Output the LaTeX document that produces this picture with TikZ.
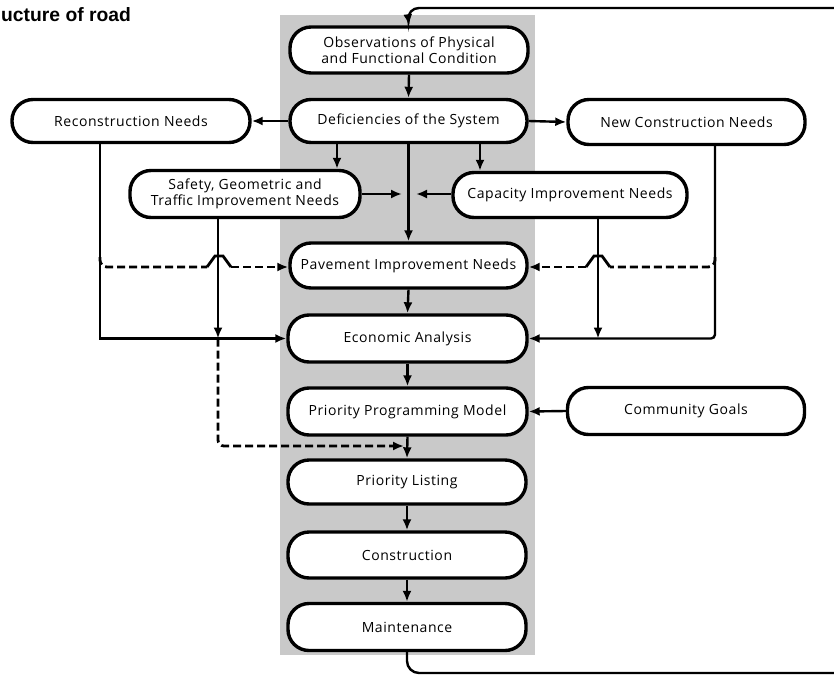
\documentclass[tikz,border=0pt]{standalone}
\usepackage{fontspec}
\newfontfamily\labf[LetterSpace=4]{Open Sans}
\newfontfamily\titf{Liberation Sans}
\usetikzlibrary{arrows.meta}
\tikzset{
  pill/.style={draw=black, line width=3.4pt, fill=white, rounded corners=21pt,
    minimum width=237pt, minimum height=45pt, inner sep=2pt, align=center,
    font=\labf\fontsize{14}{16}\selectfont},
  tip/.style={-{Latex[length=11pt,width=9pt]}},
  conn/.style={line width=2.4pt, draw=black},
  arr/.style={conn, tip},
  dsh/.style={line width=2.8pt, dash pattern=on 8pt off 4pt},
  band/.style={fill=black!21},
}
\begin{document}
\begin{tikzpicture}[x=1pt,y=-1pt]
\clip (0,0) rectangle (834,677);
\fill[white] (0,0) rectangle (834,677);
\fill[band] (280,15) rectangle (535,655);
\node[anchor=west, font=\titf\bfseries\fontsize{19.3}{22}\selectfont, inner sep=0pt] (title) at (1,15) {ucture of road};

\node[pill, minimum width=238pt, minimum height=46pt] (obs) at (409,50) {Observations of Physical\\and Functional Condition};
\node[pill, minimum height=43pt] (def) at (408.5,121) {Deficiencies of the System};
\node[pill, minimum width=238pt, minimum height=43pt] (rec) at (131,121) {Reconstruction Needs};
\node[pill] (newc) at (686.5,122) {New Construction Needs};
\node[pill, minimum width=230pt, minimum height=47pt] (saf) at (245,194) {Safety, Geometric and\\Traffic Improvement Needs};
\node[pill, minimum width=234pt] (cap) at (570,195) {Capacity Improvement Needs};
\node[pill] (pav) at (408.5,265.5) {Pavement Improvement Needs};
\node[pill, minimum width=239pt, minimum height=47pt] (eco) at (407.5,338.5) {Economic Analysis};
\node[pill, minimum width=239pt, minimum height=47pt] (ppm) at (407.5,411.5) {Priority Programming Model};
\node[pill, minimum height=47pt] (com) at (686,411) {Community Goals};
\node[pill, minimum width=238pt, minimum height=44pt] (pl) at (407,482) {Priority Listing};
\node[pill, minimum width=238pt, minimum height=46pt] (con) at (407,555) {Construction};
\node[pill, minimum width=238pt, minimum height=47pt] (mai) at (407,627) {Maintenance};

% main chain
\draw[arr] (obs.south) -- (def.north);
\draw[arr] (def.west) -- (rec.east);
\draw[arr] (def.east) -- (newc.west);
\draw[arr] (def.south -| 337,0) -- (saf.north -| 337,0);
\draw[arr] (def.south -| 480,0) -- (cap.north -| 480,0);
\draw[arr] (def.south) -- (pav.north);
\draw[arr] (pav.south) -- (eco.north);
\draw[arr] (eco.south) -- (ppm.north);
\draw[arr] (ppm.south) -- (pl.north);
\draw[arr] (pl.south) -- (con.north);
\draw[arr] (con.south) -- (mai.north);
\draw[arr] (com.west) -- (ppm.east);

% safety <-> capacity
\coordinate (sc) at (408,194);
\draw[arr] (saf.east) -- ([xshift=-6pt]sc);
\draw[arr] (cap.west |- sc) -- ([xshift=8pt]sc);

% reconstruction needs
\draw[arr] (rec.south -| 100,0) -- (100,338.5) -- (eco.west);
\draw[dsh, rounded corners=7pt] (100,257) -- (100,267) -- (207,267);
\draw[dsh, dash pattern=] (207,267) -- (215,256) -- (223,256) -- (231,267);
\draw[dsh, tip] (231,267) -- (pav.west |- 0,267);

% safety vertical
\draw[arr] (saf.south -| 218,0) -- (218,338.5);
\draw[dsh, rounded corners=6pt, tip] (218,338.5) -- (218,446) -- (404,446);

% new construction needs
\draw[arr, rounded corners=4pt] (newc.south -| 715,0) -- (715,338.5) -- (eco.east);
\draw[dsh, rounded corners=7pt] (715,257) -- (715,267) -- (610,267);
\draw[dsh, dash pattern=] (610,267) -- (602,256) -- (594,256) -- (586,267);
\draw[dsh, tip] (586,267) -- (pav.east |- 0,267);

% capacity vertical
\draw[arr] (cap.south -| 598,0) -- (598,338.5);

% feedback loop
\draw[arr, rounded corners=12pt] (mai.south) -- (407,673) -- (860,673) -- (860,8) -- (407,8) -- (obs.north);
\end{tikzpicture}
\end{document}
